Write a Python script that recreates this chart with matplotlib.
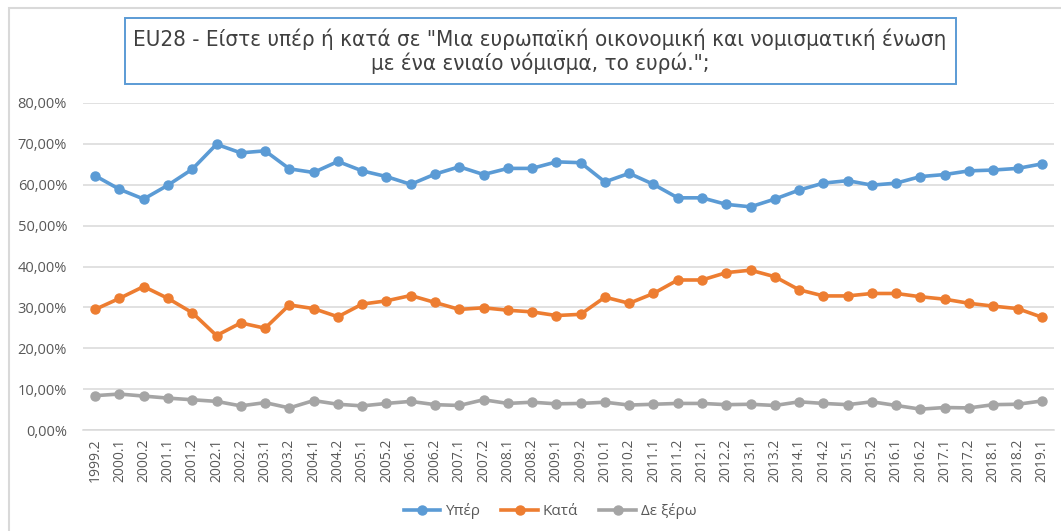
import matplotlib
matplotlib.use("Agg")
import matplotlib.pyplot as plt
from matplotlib.patches import Rectangle
from matplotlib.lines import Line2D
from matplotlib.ticker import FuncFormatter

# Survey waves
periods = ["1999.2"] + [f"{y}.{h}" for y in range(2000, 2019) for h in (1, 2)] + ["2019.1"]

# Shares (%) per wave
yper = [62.2, 58.9, 56.5, 59.9, 63.8, 69.9, 67.8, 68.3, 63.9, 63.0,
        65.7, 63.4, 62.0, 60.1, 62.6, 64.4, 62.5, 64.0, 64.0, 65.6,
        65.4, 60.7, 62.8, 60.1, 56.8, 56.8, 55.2, 54.6, 56.5, 58.7,
        60.4, 61.0, 59.9, 60.4, 62.0, 62.5, 63.4, 63.6, 64.0, 65.1]
kata = [29.5, 32.2, 35.1, 32.2, 28.7, 23.1, 26.2, 24.9, 30.6, 29.7,
        27.7, 30.8, 31.6, 32.9, 31.2, 29.5, 29.9, 29.3, 28.9, 28.0,
        28.3, 32.5, 31.0, 33.4, 36.7, 36.7, 38.5, 39.1, 37.5, 34.3,
        32.8, 32.8, 33.4, 33.4, 32.6, 32.0, 31.0, 30.3, 29.7, 27.6]
dk = [8.4, 8.8, 8.3, 7.8, 7.4, 7.0, 5.9, 6.7, 5.4, 7.2,
      6.3, 5.9, 6.5, 7.0, 6.2, 6.0, 7.4, 6.5, 6.8, 6.4,
      6.5, 6.8, 6.1, 6.3, 6.5, 6.5, 6.2, 6.3, 6.0, 6.9,
      6.5, 6.2, 6.9, 6.0, 5.1, 5.5, 5.4, 6.2, 6.3, 7.1]

series_names = ["Υπέρ", "Κατά", "Δε ξέρω"]
colors = ["#5B9BD5", "#ED7D31", "#A5A5A5"]
title = ('EU28 - Είστε υπέρ ή κατά σε "Μια ευρωπαϊκή οικονομική και νομισματική ένωση\n'
         'με ένα ενιαίο νόμισμα, το ευρώ.";')

plt.rcParams['font.family'] = ['Open Sans', 'DejaVu Sans']
W, H = 1061, 531
fig = plt.figure(figsize=(W / 100, H / 100), dpi=100)

# chart frame (light grey), open at right and bottom
fig.add_artist(Rectangle((8.5 / W, -0.05), 1.2, (H - 7.5) / H + 0.05,
                         transform=fig.transFigure, fill=False,
                         edgecolor="#D9D9D9", linewidth=1.5))

ax = fig.add_axes([83 / W, (H - 430) / H, (1054 - 83) / W, (430 - 103) / H])
x = list(range(len(periods)))
for vals, name, c in zip([yper, kata, dk], series_names, colors):
    ax.plot(x, vals, color=c, linewidth=2.6, marker="o", markersize=6.5,
            label=name, solid_joinstyle="round")

ax.set_xlim(-0.5, len(periods) - 0.5)
ax.set_ylim(0, 80)
ax.set_yticks(range(0, 81, 10))
ax.yaxis.set_major_formatter(FuncFormatter(lambda v, p: f"{v:.2f}%".replace(".", ",")))
ax.set_xticks(x)
ax.set_xticklabels(periods, rotation=90)
ax.grid(axis="y", color="#D9D9D9", linewidth=1.1)
ax.set_axisbelow(True)
for s in ax.spines.values():
    s.set_visible(False)
ax.spines["bottom"].set_visible(True)
ax.spines["bottom"].set_color("#D9D9D9")
ax.spines["bottom"].set_linewidth(1.1)
ax.tick_params(axis="both", length=0, colors="#595959")
ax.tick_params(axis="y", pad=11.5, labelsize=10.5)
ax.tick_params(axis="x", pad=6, labelsize=10)

# title box
fig.add_artist(Rectangle((125 / W, (H - 84) / H), (956 - 125) / W, (84 - 18) / H,
                         transform=fig.transFigure, fill=True, facecolor="white",
                         edgecolor="#5B9BD5", linewidth=1.4))
fig.text(540 / W, (H - 51) / H, title, ha="center", va="center",
         fontsize=16, color="#404040", linespacing=1.15,
         family=['DejaVu Sans'], fontstretch="condensed")

handles = [Line2D([0], [0], color=c, linewidth=2.6, marker="o", markersize=6.5)
           for c in colors]
fig.legend(handles, series_names, loc="center", bbox_to_anchor=(550 / W, (H - 511) / H),
           ncol=3, frameon=False, fontsize=11, labelcolor="#595959",
           handlelength=2.4, handletextpad=0.3, columnspacing=1.4)

fig.savefig("out.png", dpi=100, facecolor="white")
